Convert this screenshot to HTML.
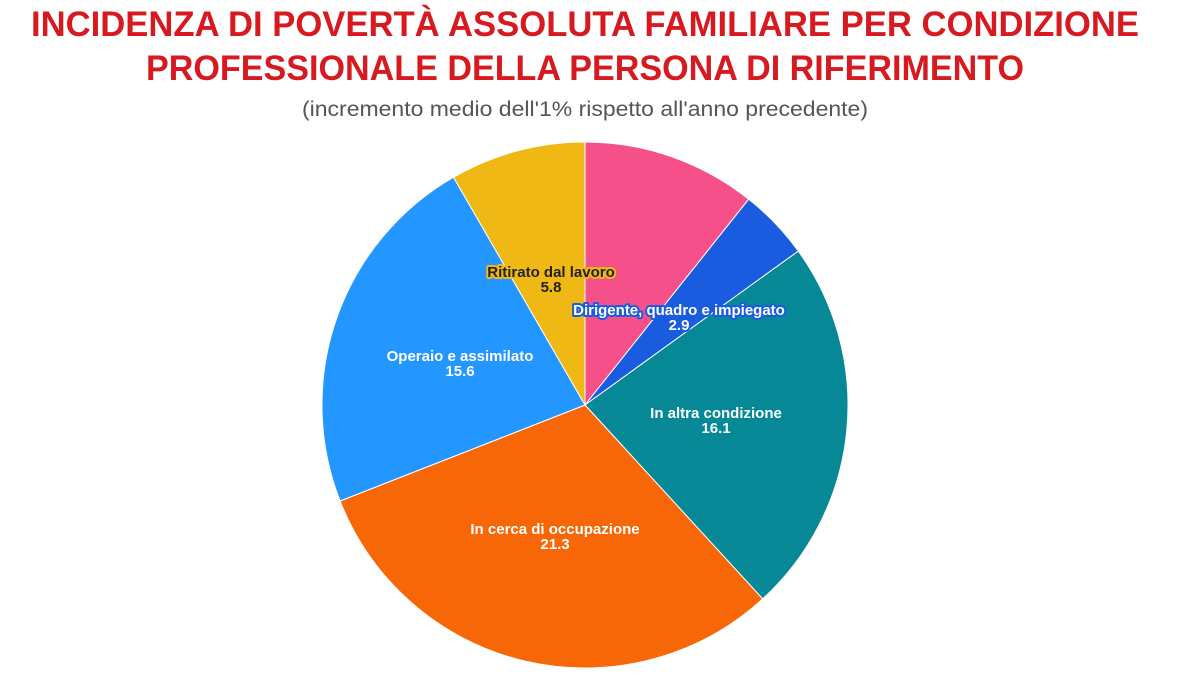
<!DOCTYPE html>
<html><head><meta charset="utf-8"><style>
body{margin:0;background:#fff;width:1181px;height:692px;overflow:hidden;font-family:"Liberation Sans",sans-serif}
</style></head><body>
<svg width="1181" height="692" xmlns="http://www.w3.org/2000/svg">
<text x="585" y="36" text-anchor="middle" font-size="35" font-weight="bold" fill="#D71920" font-family="Liberation Sans, sans-serif" textLength="1108" lengthAdjust="spacingAndGlyphs">INCIDENZA DI POVERTÀ ASSOLUTA FAMILIARE PER CONDIZIONE</text>
<text x="585" y="80" text-anchor="middle" font-size="35" font-weight="bold" fill="#D71920" font-family="Liberation Sans, sans-serif" textLength="878" lengthAdjust="spacingAndGlyphs">PROFESSIONALE DELLA PERSONA DI RIFERIMENTO</text>
<text x="585" y="116" text-anchor="middle" font-size="21" fill="#555" font-family="Liberation Sans, sans-serif" textLength="566" lengthAdjust="spacingAndGlyphs">(incremento medio dell'1% rispetto all'anno precedente)</text>
<g stroke="#fff" stroke-width="1">
<path d="M585 405 L585 142 A263 263 0 0 1 748.7 199.2 Z" fill="#F5508A"/>
<path d="M585 405 L748.7 199.2 A263 263 0 0 1 798.3 251.1 Z" fill="#1A5CE0"/>
<path d="M585 405 L798.3 251.1 A263 263 0 0 1 762.7 598.9 Z" fill="#068896"/>
<path d="M585 405 L762.7 598.9 A263 263 0 0 1 340.1 501 Z" fill="#F76707"/>
<path d="M585 405 L340.1 501 A263 263 0 0 1 453.5 177.2 Z" fill="#2496FF"/>
<path d="M585 405 L453.5 177.2 A263 263 0 0 1 585 142 Z" fill="#F0B814"/>
</g>
<g font-family="Liberation Sans, sans-serif" font-size="15" font-weight="bold" text-anchor="middle" fill="#fff">
<g fill="#222" stroke="#F0B814" stroke-width="4" paint-order="stroke" stroke-linejoin="round">
<text x="551" y="277">Ritirato dal lavoro</text><text x="551" y="292">5.8</text></g>
<g stroke="#1A5CE0" stroke-width="4" paint-order="stroke" stroke-linejoin="round">
<text x="679" y="315">Dirigente, quadro e impiegato</text><text x="679" y="330">2.9</text></g>
<text x="460" y="361">Operaio e assimilato</text><text x="460" y="376">15.6</text>
<text x="716" y="418">In altra condizione</text><text x="716" y="433">16.1</text>
<text x="555" y="534">In cerca di occupazione</text><text x="555" y="549">21.3</text>
</g>
</svg>
</body></html>
